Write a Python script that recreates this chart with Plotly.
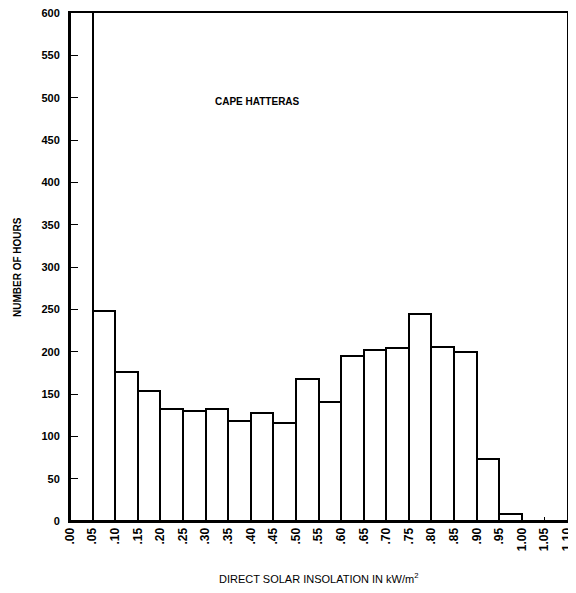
import plotly.graph_objects as go

bin_left = [0.00, 0.05, 0.10, 0.15, 0.20, 0.25, 0.30, 0.35, 0.40, 0.45, 0.50,
            0.55, 0.60, 0.65, 0.70, 0.75, 0.80, 0.85, 0.90, 0.95, 1.00, 1.05]
hours = [620, 248, 176, 154, 132, 130, 132, 118, 128, 116, 168,
         140, 195, 202, 204, 244, 206, 200, 73, 8, 0, 0]
bin_width = 0.05
x_tick_vals = [round(i * 0.05, 2) for i in range(23)]
x_tick_text = [".00", ".05", ".10", ".15", ".20", ".25", ".30", ".35", ".40", ".45", ".50",
               ".55", ".60", ".65", ".70", ".75", ".80", ".85", ".90", ".95", "1.00", "1.05", "1.10"]
y_tick_vals = list(range(0, 601, 50))

centers = [b + bin_width / 2 for b in bin_left]

fig = go.Figure()
fig.add_trace(go.Bar(
    x=centers, y=hours, width=[bin_width] * len(hours),
    marker=dict(color="white", line=dict(color="black", width=2)),
    cliponaxis=True, showlegend=False,
))

font = dict(family="Liberation Sans", size=10, color="black")

fig.update_layout(
    width=568, height=585,
    margin=dict(l=62, r=9, t=5, b=72),
    plot_bgcolor="white", paper_bgcolor="white",
    font=font,
    bargap=0,
    xaxis=dict(
        range=[0, 1.10], tickvals=x_tick_vals, ticktext=x_tick_text,
        tickangle=-90, ticks="inside", ticklen=4, tickcolor="black",
        showline=True, linecolor="black", linewidth=2, mirror=True,
        showgrid=False, zeroline=False, automargin=False,
        ticklabeloverflow="allow",
        tickfont=dict(family="Liberation Sans", size=12, color="black", weight="bold"),
    ),
    yaxis=dict(
        range=[0, 600], tickvals=y_tick_vals,
        ticks="inside", ticklen=8, tickcolor="black",
        showline=True, linecolor="black", linewidth=2, mirror=True,
        showgrid=False, zeroline=False, automargin=False,
        ticklabelstandoff=6, ticklabeloverflow="allow",
        tickfont=dict(family="Liberation Sans", size=11, color="black", weight="bold"),
    ),
    annotations=[
        dict(x=0.416, y=496, xref="x", yref="y", text="CAPE HATTERAS", showarrow=False,
             font=dict(family="Liberation Sans", size=10, color="black", weight="bold")),
        dict(x=0.5, y=0, xref="paper", yref="paper", yanchor="middle", xanchor="center",
             yshift=-57, text="DIRECT SOLAR INSOLATION IN kW/m<sup>2</sup>", showarrow=False,
             font=dict(family="Liberation Sans", size=11, color="black")),
        dict(x=0, y=0.5, xref="paper", yref="paper", xanchor="center", yanchor="middle",
             xshift=-53, textangle=-90, text="NUMBER OF HOURS", showarrow=False,
             font=dict(family="Liberation Sans", size=10, color="black", weight="bold")),
    ],
)

fig.write_html("out.html")
